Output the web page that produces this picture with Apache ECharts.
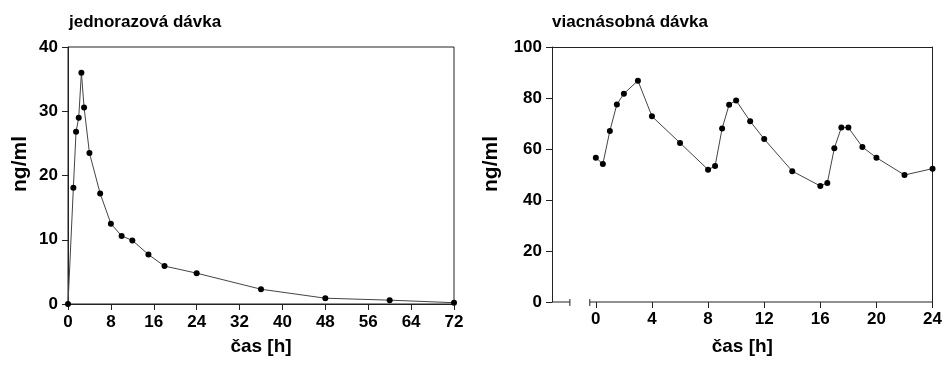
<!DOCTYPE html>
<html>
<head>
<meta charset="utf-8">
<script src="https://cdn.jsdelivr.net/npm/echarts@6/dist/echarts.min.js"></script>
<style>
  html, body {margin: 0; padding: 0; background: #fff;}
  #chart {width: 945px; height: 365px;}
</style>
</head>
<body>
<div id="chart"></div>
<script>
// jednorazová dávka (single dose)
const timeSingle = [0, 1, 1.5, 2, 2.5, 3, 4, 6, 8, 10, 12, 15, 18, 24, 36, 48, 60, 72];
const concSingle = [0, 18.1, 26.8, 29.0, 36.0, 30.6, 23.5, 17.2, 12.5, 10.6, 9.9, 7.7, 5.9, 4.8, 2.3, 0.9, 0.6, 0.2];

// viacnásobná dávka (multiple dose)
const timeMulti = [0, 0.5, 1, 1.5, 2, 3, 4, 6, 8, 8.5, 9, 9.5, 10, 11, 12, 14, 16, 16.5, 17, 17.5, 18, 19, 20, 22, 24];
const concMulti = [56.6, 54.1, 67.1, 77.5, 81.7, 86.8, 72.8, 62.4, 51.9, 53.3, 68.0, 77.4, 79.0, 70.9, 63.9, 51.3, 45.5, 46.7, 60.3, 68.4, 68.4, 60.8, 56.6, 49.8, 52.3];

const titles = ['jednorazová dávka', 'viacnásobná dávka'];
const xName = 'čas [h]';
const yName = 'ng/ml';
const ticksMultiX = [0, 4, 8, 12, 16, 20, 24];
// broken time axis of the right chart: [start, end]
const axisSegments = [[-3.125, -1.85], [-0.43, 24]];

const font = "'Liberation Sans', Arial, sans-serif";
const ink = '#222';
const lineColor = '#444';

const labelStyle = {color: '#000', fontFamily: font, fontWeight: 'bold', fontSize: 17};
const nameStyle = {color: '#000', fontFamily: font, fontWeight: 'bold', fontSize: 19};
const titleStyle = {fontFamily: font, fontWeight: 'bold', fontSize: 17, color: '#000'};

const pairs = (xs, ys) => xs.map((x, i) => [x, ys[i]]);

const chart = echarts.init(document.getElementById('chart'));

chart.setOption({
  animation: false,
  title: [
    {text: titles[0], left: 69, top: 14, padding: 0, textStyle: titleStyle},
    {text: titles[1], left: 552, top: 14, padding: 0, textStyle: titleStyle}
  ],
  grid: [
    {left: 68, right: 491, top: 47, bottom: 61, show: true, borderColor: ink, borderWidth: 1},
    {left: 552, right: 11, top: 47, bottom: 63}
  ],
  xAxis: [
    {
      gridIndex: 0, type: 'value', min: 0, max: 72, interval: 8,
      name: xName, nameLocation: 'middle', nameGap: 33, nameTextStyle: nameStyle,
      axisLine: {onZero: false, lineStyle: {color: ink}},
      axisTick: {length: 6, lineStyle: {color: ink}},
      axisLabel: Object.assign({margin: 10}, labelStyle),
      splitLine: {show: false}
    },
    {
      gridIndex: 1, type: 'value', min: -3.125, max: 24,
      name: xName, nameLocation: 'middle', nameGap: 35, nameTextStyle: nameStyle,
      axisLine: {show: false},
      axisTick: {length: 6, customValues: ticksMultiX, lineStyle: {color: ink}},
      axisLabel: Object.assign({margin: 9, customValues: ticksMultiX}, labelStyle),
      splitLine: {show: false}
    },
    {
      gridIndex: 1, type: 'value', position: 'top', min: 0, max: 1,
      axisLine: {onZero: false, lineStyle: {color: ink}},
      axisTick: {show: false}, axisLabel: {show: false}, splitLine: {show: false}
    }
  ],
  yAxis: [
    {
      gridIndex: 0, type: 'value', min: 0, max: 40, interval: 10,
      axisLine: {show: true, onZero: false, lineStyle: {color: ink}},
      axisTick: {show: true, length: 6, lineStyle: {color: ink}},
      axisLabel: Object.assign({margin: 10}, labelStyle),
      splitLine: {show: false}
    },
    {
      gridIndex: 1, type: 'value', min: 0, max: 100, interval: 20,
      axisLine: {show: true, onZero: false, lineStyle: {color: ink}},
      axisTick: {show: true, length: 6, lineStyle: {color: ink}},
      axisLabel: Object.assign({margin: 10}, labelStyle),
      splitLine: {show: false}
    },
    {
      gridIndex: 1, type: 'value', position: 'right', min: 0, max: 1,
      axisLine: {show: true, onZero: false, lineStyle: {color: ink}},
      axisTick: {show: false}, axisLabel: {show: false}, splitLine: {show: false}
    }
  ],
  graphic: [
    {type: 'text', x: 20, y: 164, rotation: Math.PI / 2,
      style: {text: yName, fill: '#000', font: "bold 21px 'Liberation Sans', Arial", align: 'center', verticalAlign: 'middle'}},
    {type: 'text', x: 491, y: 164, rotation: Math.PI / 2,
      style: {text: yName, fill: '#000', font: "bold 21px 'Liberation Sans', Arial", align: 'center', verticalAlign: 'middle'}}
  ],
  series: [
    {
      type: 'line', xAxisIndex: 0, yAxisIndex: 0,
      data: pairs(timeSingle, concSingle),
      symbol: 'circle', symbolSize: 6,
      itemStyle: {color: '#000'},
      lineStyle: {color: lineColor, width: 1}
    },
    {
      type: 'line', xAxisIndex: 1, yAxisIndex: 1,
      data: pairs(timeMulti, concMulti),
      symbol: 'circle', symbolSize: 6,
      itemStyle: {color: '#000'},
      lineStyle: {color: lineColor, width: 1}
    },
    {
      // broken x axis with small end marks at the break
      type: 'custom', xAxisIndex: 1, yAxisIndex: 1, silent: true, clip: false,
      data: axisSegments,
      renderItem(params, api) {
        const a = api.coord([api.value(0), 0]);
        const b = api.coord([api.value(1), 0]);
        const children = [{
          type: 'line', shape: {x1: a[0], y1: a[1], x2: b[0], y2: b[1]},
          style: {stroke: ink, lineWidth: 1}
        }];
        const markX = params.dataIndex === 0 ? b[0] : a[0];
        children.push({
          type: 'line', shape: {x1: markX, y1: a[1] - 3, x2: markX, y2: a[1] + 4},
          style: {stroke: ink, lineWidth: 1}
        });
        return {type: 'group', children};
      }
    }
  ]
});
</script>
</body>
</html>
